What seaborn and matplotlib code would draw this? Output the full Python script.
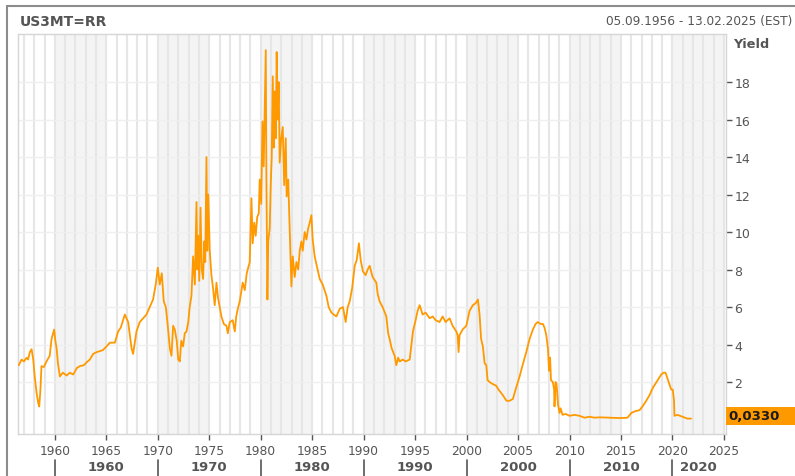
import matplotlib
matplotlib.use("Agg")
import matplotlib.pyplot as plt
import matplotlib.transforms as mtransforms
from matplotlib.lines import Line2D
from matplotlib.patches import Rectangle
import pandas as pd
import seaborn as sns

# 3-month treasury yield (decimal year, percent)
years = [
    1956.50, 1956.77, 1957.00, 1957.25, 1957.40, 1957.57, 1957.74, 1957.90,
    1958.06, 1958.22, 1958.38, 1958.48, 1958.60, 1958.70, 1958.93, 1959.19,
    1959.50, 1959.68, 1959.93, 1960.05, 1960.17, 1960.30, 1960.49, 1960.78,
    1961.14, 1961.46, 1961.78, 1962.14, 1962.43, 1962.82, 1963.08, 1963.40,
    1963.72, 1964.08, 1964.37, 1964.66, 1965.02, 1965.34, 1965.83, 1966.15,
    1966.40, 1966.80, 1967.12, 1967.45, 1967.60, 1967.93, 1968.25, 1968.57,
    1968.90, 1969.22, 1969.54, 1969.80, 1970.00, 1970.19, 1970.39, 1970.58,
    1970.78, 1970.97, 1971.17, 1971.33, 1971.49, 1971.65, 1971.84, 1971.99,
    1972.14, 1972.28, 1972.46, 1972.62, 1972.79, 1972.96, 1973.10, 1973.27,
    1973.43, 1973.60, 1973.76, 1973.84, 1973.91, 1974.03, 1974.15, 1974.27,
    1974.40, 1974.52, 1974.61, 1974.73, 1974.81, 1974.90, 1975.05, 1975.21,
    1975.37, 1975.53, 1975.70, 1975.85, 1976.02, 1976.18, 1976.41, 1976.67,
    1976.80, 1976.99, 1977.28, 1977.48, 1977.62, 1977.77, 1977.96, 1978.25,
    1978.45, 1978.64, 1978.93, 1979.10, 1979.22, 1979.37, 1979.51, 1979.66,
    1979.81, 1979.90, 1980.05, 1980.17, 1980.29, 1980.39, 1980.49, 1980.55,
    1980.65, 1980.73, 1980.87, 1980.97, 1981.07, 1981.17, 1981.26, 1981.36,
    1981.46, 1981.55, 1981.65, 1981.75, 1981.84, 1981.99, 1982.14, 1982.28,
    1982.43, 1982.52, 1982.67, 1982.82, 1982.98, 1983.11, 1983.30, 1983.47,
    1983.64, 1983.79, 1983.95, 1984.08, 1984.27, 1984.44, 1984.61, 1984.76,
    1984.92, 1985.05, 1985.24, 1985.44, 1985.73, 1986.02, 1986.38, 1986.60,
    1986.87, 1987.09, 1987.35, 1987.67, 1987.99, 1988.25, 1988.45, 1988.64,
    1988.88, 1989.13, 1989.32, 1989.54, 1989.71, 1989.93, 1990.19, 1990.39,
    1990.58, 1990.87, 1991.23, 1991.36, 1991.55, 1991.84, 1992.20, 1992.38,
    1992.52, 1992.72, 1993.01, 1993.17, 1993.35, 1993.50, 1993.79, 1994.08,
    1994.47, 1994.79, 1995.05, 1995.24, 1995.44, 1995.73, 1996.02, 1996.41,
    1996.70, 1996.99, 1997.38, 1997.67, 1997.96, 1998.35, 1998.64, 1999.00,
    1999.13, 1999.22, 1999.32, 1999.61, 1999.97, 2000.29, 2000.61, 2000.87,
    2001.10, 2001.26, 2001.41, 2001.58, 2001.75, 2001.91, 2002.04, 2002.23,
    2002.52, 2002.88, 2003.10, 2003.52, 2003.88, 2004.17, 2004.50, 2004.76,
    2005.15, 2005.44, 2005.80, 2006.12, 2006.44, 2006.70, 2006.92, 2007.18,
    2007.41, 2007.57, 2007.74, 2007.90, 2008.01, 2008.11, 2008.20, 2008.38,
    2008.50, 2008.54, 2008.64, 2008.74, 2008.88, 2009.03, 2009.13, 2009.32,
    2009.61, 2010.00, 2010.49, 2010.97, 2011.46, 2011.94, 2012.43, 2012.91,
    2013.88, 2014.85, 2015.63, 2016.00, 2016.40, 2016.80, 2017.09, 2017.45,
    2017.77, 2018.10, 2018.45, 2018.90, 2019.13, 2019.32, 2019.51, 2019.87,
    2020.03, 2020.15, 2020.19, 2020.49, 2020.97, 2021.46, 2021.81,
]
yields = [
    2.90, 3.20, 3.10, 3.30, 3.20, 3.60, 3.75, 3.20,
    2.20, 1.45, 0.90, 0.70, 1.60, 2.85, 2.80, 3.10,
    3.40, 4.30, 4.80, 4.20, 3.80, 3.00, 2.30, 2.50,
    2.35, 2.50, 2.40, 2.75, 2.85, 2.90, 3.05, 3.20,
    3.50, 3.60, 3.65, 3.70, 3.90, 4.10, 4.10, 4.70,
    4.90, 5.60, 5.20, 3.80, 3.50, 4.70, 5.20, 5.40,
    5.60, 6.00, 6.40, 7.20, 8.10, 7.20, 7.80, 6.30,
    6.00, 5.00, 3.80, 3.40, 5.00, 4.80, 4.20, 3.20,
    3.10, 4.20, 3.90, 4.60, 4.70, 5.20, 6.00, 6.60,
    8.70, 7.20, 11.60, 8.00, 9.80, 7.40, 11.30, 8.00,
    7.50, 9.50, 8.40, 14.00, 9.00, 12.00, 9.00, 7.70,
    7.00, 6.10, 7.30, 6.50, 6.00, 5.50, 5.10, 5.00,
    4.60, 5.20, 5.30, 4.70, 5.50, 5.90, 6.30, 7.30,
    6.90, 7.80, 8.40, 11.80, 9.40, 10.50, 9.80, 10.80,
    11.00, 12.80, 11.50, 15.90, 13.50, 16.50, 19.70, 13.00,
    6.40, 9.50, 10.20, 12.50, 14.00, 18.30, 14.50, 17.50,
    15.00, 19.60, 16.00, 18.00, 13.70, 15.00, 15.60, 12.50,
    15.00, 11.90, 12.80, 10.00, 7.10, 8.70, 7.60, 8.40,
    8.00, 9.00, 9.50, 9.00, 10.00, 9.60, 10.20, 10.50,
    10.90, 9.60, 8.70, 8.20, 7.50, 7.20, 6.60, 6.00,
    5.70, 5.60, 5.50, 5.90, 6.00, 5.20, 6.00, 6.30,
    7.00, 8.20, 8.50, 9.40, 8.50, 7.90, 7.70, 8.00,
    8.20, 7.60, 7.30, 6.70, 6.30, 6.00, 5.50, 4.60,
    4.30, 3.80, 3.40, 2.90, 3.30, 3.10, 3.20, 3.10,
    3.20, 4.70, 5.30, 5.80, 6.10, 5.60, 5.70, 5.40,
    5.50, 5.30, 5.20, 5.50, 5.20, 5.40, 5.00, 4.70,
    4.50, 3.60, 4.50, 4.80, 5.00, 5.80, 6.10, 6.20,
    6.40, 5.60, 4.30, 3.90, 3.00, 2.90, 2.10, 2.00,
    1.90, 1.80, 1.60, 1.30, 1.00, 1.00, 1.10, 1.60,
    2.30, 2.90, 3.60, 4.30, 4.80, 5.10, 5.20, 5.10,
    5.10, 4.90, 4.50, 3.80, 2.60, 3.30, 2.10, 2.00,
    1.60, 0.70, 2.00, 1.90, 0.80, 0.35, 0.60, 0.25,
    0.30, 0.20, 0.25, 0.20, 0.10, 0.15, 0.10, 0.12,
    0.10, 0.08, 0.10, 0.35, 0.45, 0.50, 0.70, 1.00,
    1.30, 1.70, 2.00, 2.40, 2.50, 2.50, 2.20, 1.60,
    1.60, 1.00, 0.20, 0.25, 0.15, 0.05, 0.05,
]
year_ticks = list(range(1960, 2026, 5))
decades = [1960, 1970, 1980, 1990, 2000, 2010, 2020]
yield_ticks = [2, 4, 6, 8, 10, 12, 14, 16, 18]
title = "US3MT=RR"
date_range = "05.09.1956 - 13.02.2025 (EST)"
last_value = "0,0330"

W, H = 795, 477
ORANGE = "#ff9900"
TEXT = "#555555"

sns.set_style("white")
plt.rcParams["font.family"] = ["DejaVu Sans"]

fig = plt.figure(figsize=(W / 100, H / 100), dpi=100)
fig.patch.set_facecolor("white")

# plot area in pixels
left, right, top, bottom = 18, 726, 35, 435
ax = fig.add_axes([left / W, 1 - bottom / H, (right - left) / W, (bottom - top) / H])

# alternating 5-year background bands and yearly grid lines
for start in range(1960, 2025, 10):
    ax.axvspan(start, start + 5, color="#f4f4f4", lw=0, zorder=0)
for yr in range(1957, 2026):
    ax.axvline(yr, color="#e6e6e6", lw=1.5, zorder=0.5)
for v in yield_ticks:
    ax.axhline(v, color="#efefef", lw=1, zorder=0.6)

df = pd.DataFrame({"year": years, "yield": yields})
sns.lineplot(data=df, x="year", y="yield", color=ORANGE, lw=1.3,
             estimator=None, ax=ax, zorder=3)

ax.set_xlim(1956.42, 2025.2)
ax.set_ylim(-0.77, 20.56)
ax.set_xlabel("")
ax.set_ylabel("")

ax.yaxis.tick_right()
ax.set_yticks(yield_ticks)
ax.set_yticklabels([str(v) for v in yield_ticks])
ax.tick_params(axis="y", which="both", right=True, left=False, length=4,
               width=1, color=TEXT, labelsize=9, labelcolor=TEXT, pad=2)
ax.set_xticks(year_ticks)
ax.set_xticklabels([str(v) for v in year_ticks])
ax.tick_params(axis="x", bottom=True, length=4, width=1, color=TEXT,
               labelsize=8.8, labelcolor=TEXT, pad=3)
for side in ["top", "right", "left", "bottom"]:
    ax.spines[side].set_color("#d6d6d6")
    ax.spines[side].set_linewidth(1)

# decade row under the year labels
trans = mtransforms.blended_transform_factory(ax.transData, fig.transFigure)
for d in decades:
    ax.add_line(Line2D([d, d], [1 - 461 / H, 0], transform=trans, color=TEXT,
                       lw=1.2, clip_on=False))
    ax.text(min(d + 5, 2022.5), 1 - 468 / H, str(d), transform=trans,
            ha="center", va="center", fontsize=9.5, fontweight="bold", color=TEXT)

# header texts
fig.text(20 / W, 1 - 22 / H, title, fontsize=10, fontweight="bold", color=TEXT,
         va="center", ha="left")
fig.text(792 / W, 1 - 22 / H, date_range, fontsize=8.7, color=TEXT,
         va="center", ha="right")
fig.text(733 / W, 1 - 45 / H, "Yield", fontsize=9.3, fontweight="bold",
         color=TEXT, va="center", ha="left")

# last value marker
fig.patches.append(Rectangle((726 / W, 1 - 426 / H), 70 / W, 18 / H,
                             transform=fig.transFigure, color=ORANGE, lw=0))
fig.text(728 / W, 1 - 417 / H, last_value, fontsize=9.5, fontweight="bold",
         color="#1a1a1a", va="center", ha="left")

# window frame on top and left
fig.add_artist(Line2D([7 / W, 1], [1 - 7 / H, 1 - 7 / H], transform=fig.transFigure,
                      color="#8c8c8c", lw=1.5))
fig.add_artist(Line2D([7 / W, 7 / W], [0, 1 - 7 / H], transform=fig.transFigure,
                      color="#8c8c8c", lw=1.5))

fig.savefig("out.png", dpi=100, facecolor="white")
